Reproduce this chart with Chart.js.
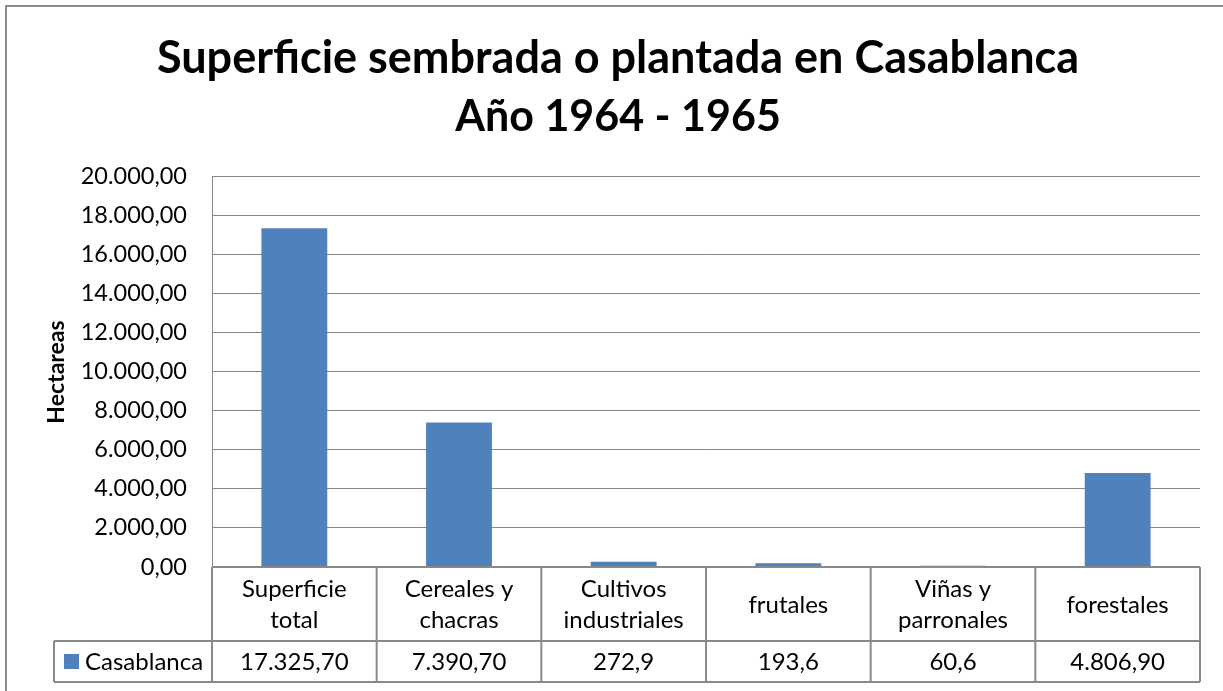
<!DOCTYPE html>
<html>
<head>
<meta charset="utf-8">
<script src="https://cdn.jsdelivr.net/npm/chart.js@4/dist/chart.umd.min.js"></script>
<style>
html,body{margin:0;padding:0;background:#fff;}
#wrap{width:1223px;height:691px;position:relative;}
</style>
</head>
<body>
<div id="wrap"><canvas id="c" width="1223" height="691"></canvas></div>
<script>
const titleLines = ["Superficie sembrada o plantada en Casablanca", "Año 1964 - 1965"];
const yAxisTitle = "Hectareas";
const seriesName = "Casablanca";
const categories = [["Superficie","total"],["Cereales y","chacras"],["Cultivos","industriales"],["frutales"],["Viñas y","parronales"],["forestales"]];
const values = [17325.7, 7390.7, 272.9, 193.6, 60.6, 4806.9];
const tableLabels = ["17.325,70","7.390,70","272,9","193,6","60,6","4.806,90"];
const yMin = 0, yMax = 20000, yStep = 2000;

const FONT = "Lato, 'Noto Sans', sans-serif";
const BAR = "#4F81BD";
const LINE = "#898989";

function fmt(v){
  const s = Math.abs(v).toFixed(2).split(".");
  const int = s[0].replace(/\B(?=(\d{3})+(?!\d))/g, ".");
  return int + "," + s[1];
}

const decor = {
  id: "decor",
  afterDraw(chart){
    const ctx = chart.ctx;
    const ca = chart.chartArea;
    const x = chart.scales.x;
    const n = categories.length;
    const cw = (ca.right - ca.left) / n;
    ctx.save();
    // outer border
    ctx.strokeStyle = "#8c8c8c";
    ctx.lineWidth = 2;
    ctx.beginPath();
    ctx.moveTo(6, 700); ctx.lineTo(6, 6); ctx.lineTo(1230, 6);
    ctx.stroke();
    // title
    ctx.fillStyle = "#000";
    ctx.textAlign = "center";
    ctx.textBaseline = "middle";
    ctx.font = "bold 45px " + FONT;
    ctx.fillText(titleLines[0], 618, 58);
    ctx.font = "bold 43px " + FONT;
    ctx.fillText(titleLines[1], 618, 117);
    // y axis title
    ctx.save();
    ctx.translate(57, 372);
    ctx.rotate(-Math.PI/2);
    ctx.font = "bold 23px " + FONT;
    ctx.fillText(yAxisTitle, 0, 0);
    ctx.restore();
    // table
    const top = ca.bottom, mid = 641, bot = 682, legL = 54;
    ctx.strokeStyle = LINE;
    ctx.lineWidth = 2;
    ctx.beginPath();
    ctx.moveTo(ca.left, top); ctx.lineTo(ca.right, top);
    ctx.moveTo(legL, mid); ctx.lineTo(ca.right, mid);
    ctx.moveTo(legL, bot); ctx.lineTo(ca.right, bot);
    ctx.moveTo(legL, mid); ctx.lineTo(legL, bot);
    for (let i = 0; i <= n; i++) {
      const xx = ca.left + i * cw;
      ctx.moveTo(xx, top); ctx.lineTo(xx, bot);
    }
    ctx.stroke();
    ctx.fillStyle = "#000";
    ctx.font = "24px " + FONT;
    for (let i = 0; i < n; i++) {
      const cx = x.getPixelForValue(i);
      const lines = categories[i];
      const lh = 31;
      const cy = (top + mid) / 2 + 1;
      lines.forEach((t, j) => {
        ctx.fillText(t, cx, cy + (j - (lines.length - 1) / 2) * lh);
      });
      ctx.fillText(tableLabels[i], cx, (mid + bot) / 2 + 1);
    }
    // legend key
    ctx.fillStyle = BAR;
    ctx.fillRect(64, 654, 15, 15);
    ctx.fillStyle = "#000";
    ctx.textAlign = "left";
    ctx.fillText(seriesName, 85, (mid + bot) / 2 + 1);
    ctx.restore();
  }
};

new Chart(document.getElementById("c"), {
  type: "bar",
  data: {
    labels: categories.map(c => c.join(" ")),
    datasets: [{
      label: seriesName,
      data: values,
      backgroundColor: BAR,
      borderWidth: 0,
      categoryPercentage: 1,
      barPercentage: 0.4
    }]
  },
  options: {
    responsive: false,
    animation: false,
    devicePixelRatio: 1,
    layout: { padding: { left: 0, top: 176, right: 23, bottom: 124 } },
    plugins: { legend: { display: false }, title: { display: false }, tooltip: { enabled: false } },
    scales: {
      x: {
        grid: { display: false, drawTicks: false },
        border: { display: false },
        ticks: { display: false },
        afterFit(s){ s.height = 0; }
      },
      y: {
        min: yMin, max: yMax,
        ticks: { stepSize: yStep, padding: 25, color: "#000", font: { family: FONT, size: 23.5 }, callback: v => fmt(v) },
        grid: { color: "#868686", lineWidth: 1, drawTicks: false },
        border: { display: true, color: "#868686", width: 1 },
        afterFit(s){ s.width = 212; }
      }
    }
  },
  plugins: [decor]
});
</script>
</body>
</html>
